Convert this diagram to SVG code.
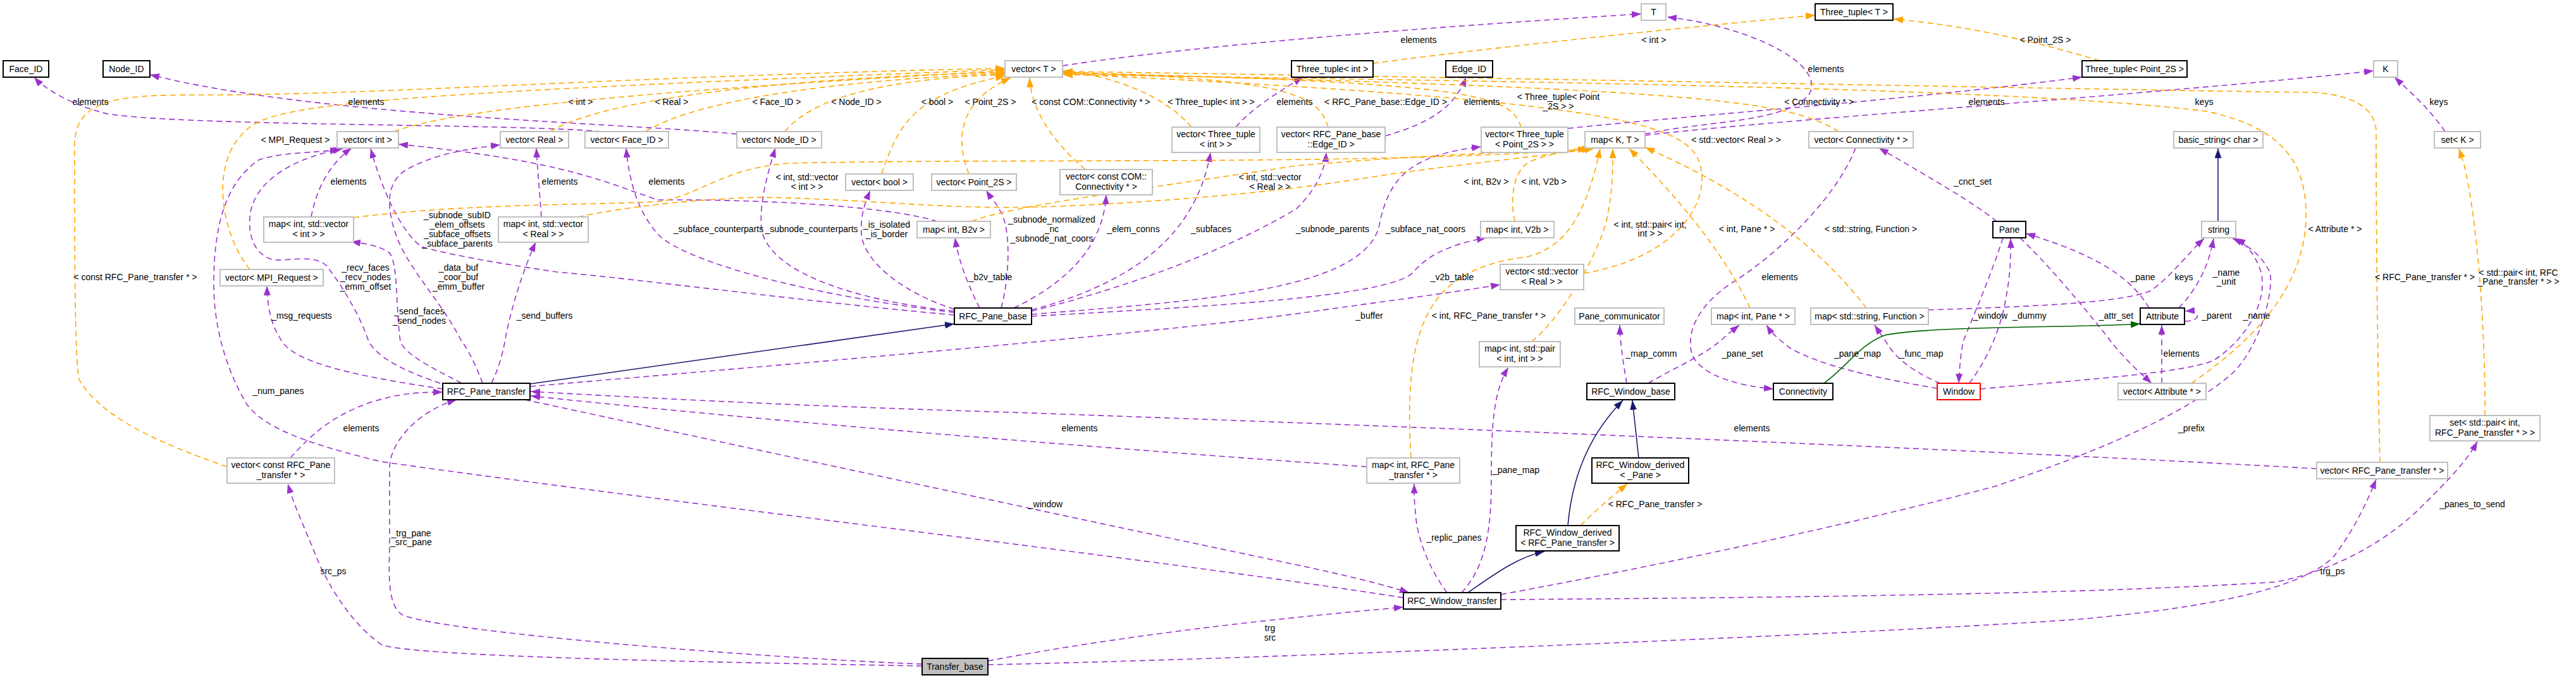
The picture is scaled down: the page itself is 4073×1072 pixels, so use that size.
<svg xmlns="http://www.w3.org/2000/svg" width="4073" height="1072" viewBox="0 0 4073 1072">
<style>
text{font-family:'Liberation Sans Narrow','Liberation Sans',Arial,sans-serif;font-size:14px;fill:#000;text-anchor:middle}
.n rect{fill:#fff;stroke:#bfbfbf;stroke-width:2}
.b rect{stroke:#000;stroke-width:2}
.r rect{stroke:#ff0000;stroke-width:2}
.f rect{fill:#bfbfbf;stroke:#000;stroke-width:2}
.u{fill:none;stroke:#9a32cd;stroke-width:1.6;stroke-dasharray:9,6;marker-end:url(#ap)}
.t{fill:none;stroke:#ffa500;stroke-width:1.6;stroke-dasharray:9,6;marker-end:url(#ao)}
.i{fill:none;stroke:#191970;stroke-width:1.6;marker-end:url(#an)}
.g{fill:none;stroke:#006400;stroke-width:1.6;marker-end:url(#ag)}
</style>
<defs>
<marker id="ap" markerUnits="userSpaceOnUse" markerWidth="15" markerHeight="11" refX="15" refY="5.5" orient="auto"><path d="M0,0L15,5.5L0,11z" fill="#9a32cd"/></marker>
<marker id="ao" markerUnits="userSpaceOnUse" markerWidth="15" markerHeight="11" refX="15" refY="5.5" orient="auto"><path d="M0,0L15,5.5L0,11z" fill="#ffa500"/></marker>
<marker id="an" markerUnits="userSpaceOnUse" markerWidth="15" markerHeight="11" refX="15" refY="5.5" orient="auto"><path d="M0,0L15,5.5L0,11z" fill="#191970"/></marker>
<marker id="ag" markerUnits="userSpaceOnUse" markerWidth="15" markerHeight="11" refX="15" refY="5.5" orient="auto"><path d="M0,0L15,5.5L0,11z" fill="#006400"/></marker>
</defs>
<rect width="4073" height="1072" fill="#fff"/>
<g id="connectors">
<path class="u" d="M1680,104 C1900,70 2300,40 2595,22"/>
<path class="u" d="M2601,212 C2700,190 2820,195 2860,150 C2890,100 2760,40 2636,27"/>
<path class="u" d="M2601,214 C2800,190 3400,150 3753,112"/>
<path class="u" d="M3866,208 C3840,170 3810,145 3786,122"/>
<path class="u" d="M951,208 C800,195 300,200 170,180 C110,165 70,140 54,122"/>
<path class="u" d="M1165,212 C1000,195 500,185 237,118"/>
<path class="u" d="M1954,201 C1980,170 2030,140 2060,122"/>
<path class="u" d="M2190,215 C2260,195 2300,170 2318,122"/>
<path class="u" d="M2479,203 C2700,180 3000,160 3292,122"/>
<path class="u" d="M492,343 C500,300 520,260 556,234"/>
<path class="u" d="M856,343 C853,300 850,270 848,234"/>
<path class="u" d="M1482,350 C1400,325 1200,315 1040,316 C960,290 900,255 630,228"/>
<path class="u" d="M1509,494 C1300,470 1100,420 1045,375 C1010,340 995,290 990,234"/>
<path class="u" d="M1509,492 C1350,475 1215,430 1204,362 C1200,320 1215,270 1226,234"/>
<path class="u" d="M1509,489 C1420,460 1365,410 1362,370 C1360,340 1368,320 1376,301"/>
<path class="u" d="M1549,487 C1530,450 1515,410 1510,376"/>
<path class="u" d="M1583,487 C1596,440 1598,370 1585,340 C1575,320 1565,310 1559,301"/>
<path class="u" d="M1603,487 C1700,440 1745,380 1749,308"/>
<path class="u" d="M1631,490 C1780,450 1890,380 1914,241"/>
<path class="u" d="M1631,492 C1800,450 1950,390 2050,330 C2080,300 2095,270 2097,241"/>
<path class="u" d="M1631,497 C1900,475 2150,460 2180,360 C2195,280 2230,245 2342,232"/>
<path class="u" d="M1631,500 C1900,485 2200,470 2235,430 C2260,400 2300,385 2350,376"/>
<path class="u" d="M1509,498 C1300,480 1000,440 880,430 C760,412 700,400 666,390 C640,370 610,320 586,235"/>
<path class="u" d="M838,611 C1200,580 1800,530 2050,496 C2200,475 2300,462 2372,450"/>
<path class="u" d="M696,606 C650,590 600,570 583,540 C570,500 540,450 516,420 C495,400 450,415 429,410 C400,400 393,370 395,344 C398,300 440,255 542,235"/>
<path class="u" d="M730,606 C680,580 640,560 633,540 C625,480 630,420 616,400 C600,388 575,385 555,382"/>
<path class="u" d="M763,606 C750,570 735,545 730,540 C700,480 650,430 629,379 C610,330 610,290 640,270 C680,245 740,235 791,229"/>
<path class="u" d="M777,606 C790,580 797,550 800,530 C810,480 830,420 847,383"/>
<path class="u" d="M700,615 C600,600 480,580 450,545 C430,520 423,490 422,452"/>
<path class="u" d="M2219,945 C1800,880 1100,800 603,730 C500,705 420,680 391,640 C360,590 338,520 338,450 C338,360 355,290 409,253 C440,242 480,242 537,237"/>
<path class="u" d="M459,724 C490,690 520,660 583,637 C630,622 660,620 700,620"/>
<path class="u" d="M1458,1050 C1200,1040 700,1000 636,972 C610,955 616,900 616,850 L616,740 C616,700 660,650 722,632"/>
<path class="u" d="M1458,1053 C1200,1048 650,1040 603,1019 C560,990 520,930 500,880 C480,830 465,800 455,765"/>
<path class="u" d="M1562,1045 C1800,1000 2050,975 2219,960"/>
<path class="u" d="M1562,1051 C2000,1042 3000,1000 3288,979 C3500,960 3640,930 3690,880 C3720,840 3740,800 3757,758"/>
<path class="u" d="M2373,948 C2800,945 3300,940 3600,920 C3700,900 3780,850 3830,800 C3870,760 3900,730 3917,698"/>
<path class="u" d="M3663,741 C3200,715 2400,680 1600,652 C1200,640 950,625 839,619"/>
<path class="u" d="M2161,738 C1900,720 1300,675 839,626"/>
<path class="u" d="M830,632 C1100,690 1700,820 2050,893 C2130,910 2190,925 2228,937"/>
<path class="u" d="M2288,937 C2260,900 2240,850 2238,810 C2236,790 2236,780 2236,765"/>
<path class="u" d="M2311,937 C2345,900 2358,850 2358,760 C2358,680 2360,620 2385,581"/>
<path class="u" d="M2373,940 C2700,880 3000,810 3154,769 C3300,720 3450,660 3530,590 C3580,540 3595,450 3589,431 C3580,410 3560,390 3530,377"/>
<path class="u" d="M2572,606 C2568,580 2562,550 2561,514"/>
<path class="u" d="M2606,606 C2650,580 2700,560 2730,530 L2750,514"/>
<path class="u" d="M2934,234 C2900,320 2800,410 2737,448 C2690,480 2665,520 2675,560 C2690,595 2750,610 2804,615"/>
<path class="u" d="M3063,614 C2980,600 2880,580 2830,550 C2810,535 2800,525 2793,514"/>
<path class="u" d="M3068,606 C3030,590 3000,570 2985,545 C2975,530 2968,520 2964,514"/>
<path class="u" d="M3157,350 C3120,320 3050,280 2971,234"/>
<path class="u" d="M3167,376 C3150,430 3120,500 3104,540 C3100,560 3098,585 3097,606"/>
<path class="u" d="M3114,606 C3140,570 3160,530 3170,480 C3178,440 3180,410 3179,377"/>
<path class="u" d="M3398,487 C3370,440 3320,405 3203,369"/>
<path class="u" d="M3194,376 C3240,420 3290,480 3330,530 C3360,570 3390,595 3402,606"/>
<path class="u" d="M3418,606 L3418,514"/>
<path class="u" d="M3445,487 C3470,460 3490,430 3500,377"/>
<path class="u" d="M3455,508 C3480,508 3482,490 3455,492"/>
<path class="u" d="M3131,615 C3300,600 3450,590 3500,570 C3560,530 3585,470 3575,430 C3565,400 3550,385 3535,377"/>
<path class="u" d="M3049,490 C3200,485 3350,480 3400,460 C3430,440 3460,400 3485,377"/>
<path class="t" d="M623,208 C700,180 900,150 1589,112"/>
<path class="t" d="M870,208 C950,160 1200,125 1589,114"/>
<path class="t" d="M1021,208 C1080,170 1250,130 1589,116"/>
<path class="t" d="M1241,208 C1280,160 1380,125 1589,118"/>
<path class="t" d="M1394,275 C1420,200 1440,150 1589,120"/>
<path class="t" d="M1532,275 C1510,220 1515,160 1598,123"/>
<path class="t" d="M1716,268 C1660,220 1630,170 1628,123"/>
<path class="t" d="M1884,201 C1840,150 1760,120 1681,112"/>
<path class="t" d="M2100,201 C2085,150 2040,125 1681,114"/>
<path class="t" d="M2405,201 C2390,150 2330,130 1681,115"/>
<path class="t" d="M2907,208 C2830,160 2700,140 1681,116"/>
<path class="t" d="M2504,432 C2640,410 2700,330 2690,270 C2680,200 2600,160 1681,117"/>
<path class="t" d="M395,426 C350,370 330,260 388,207 C430,165 560,150 1589,110"/>
<path class="t" d="M359,738 C250,700 160,660 125,600 C118,570 118,400 118,230 C118,150 200,150 335,150 C600,150 1000,120 1589,108"/>
<path class="t" d="M3465,606 C3560,540 3640,460 3646,350 C3650,250 3600,200 3489,176 C3200,140 2500,130 1681,118"/>
<path class="t" d="M3763,731 C3760,600 3757,400 3757,207 C3755,170 3720,150 3656,146 C3500,145 2500,125 1681,113"/>
<path class="t" d="M2171,100 C2400,70 2700,40 2870,24"/>
<path class="t" d="M3320,96 C3200,60 3100,40 2994,30"/>
<path class="t" d="M559,344 C750,320 950,325 1050,318 C1120,300 1150,265 1250,258 C1600,250 2200,262 2516,235"/>
<path class="t" d="M914,343 C1000,325 1100,315 1201,312 C1400,315 1500,335 1700,325 C1900,315 2050,300 2200,275 C2350,255 2450,245 2520,235"/>
<path class="t" d="M1536,350 C1600,325 1800,300 2050,262 C2250,245 2400,240 2516,235"/>
<path class="t" d="M2395,350 C2388,320 2390,270 2420,255 C2450,243 2480,238 2510,235"/>
<path class="t" d="M2422,540 C2460,510 2520,420 2540,350 C2550,300 2550,270 2550,235"/>
<path class="t" d="M2231,724 C2228,680 2225,600 2241,540 C2260,470 2300,420 2415,406 C2480,390 2510,330 2530,235"/>
<path class="t" d="M2767,487 C2740,430 2690,350 2576,235"/>
<path class="t" d="M2951,487 C2900,420 2800,320 2601,233"/>
<path class="t" d="M3929,657 C3930,550 3920,360 3896,260 L3888,235"/>
<path class="t" d="M2499,831 C2530,800 2555,780 2573,765"/>
<path class="i" d="M838,607 L1509,512"/>
<path class="i" d="M3507,350 L3507,235"/>
<path class="i" d="M2321,937 C2360,910 2400,880 2442,872"/>
<path class="i" d="M2479,831 C2485,760 2510,690 2566,633"/>
<path class="i" d="M2591,724 L2581,633"/>
<path class="g" d="M2884,606 C2920,580 2940,545 2980,530 C3050,515 3300,518 3384,512"/>
</g>
<g id="edge-labels">
<text x="2243" y="68">elements</text>
<text x="2887" y="114">elements</text>
<text x="3485" y="166">keys</text>
<text x="3856" y="166">keys</text>
<text x="143" y="166">elements</text>
<text x="579" y="166">elements</text>
<text x="2047" y="166">elements</text>
<text x="2343" y="166">elements</text>
<text x="3141" y="166">elements</text>
<text x="551" y="292">elements</text>
<text x="885" y="292">elements</text>
<text x="1054" y="292">elements</text>
<text x="1136" y="367">_subface_counterparts</text>
<text x="1283" y="367">_subnode_counterparts</text>
<text x="1402" y="360">_is_isolated<tspan x="1402" dy="15">_is_border</tspan></text>
<text x="1566" y="443">_b2v_table</text>
<text x="1663" y="352">_subnode_normalized<tspan x="1663" dy="15">_nc</tspan><tspan x="1663" dy="15">_subnode_nat_coors</tspan></text>
<text x="1792" y="367">_elem_conns</text>
<text x="1915" y="367">_subfaces</text>
<text x="2107" y="367">_subnode_parents</text>
<text x="2254" y="367">_subface_nat_coors</text>
<text x="2296" y="443">_v2b_table</text>
<text x="2165" y="504">_buffer</text>
<text x="723" y="345">_subnode_subID<tspan x="723" dy="15">_elem_offsets</tspan><tspan x="723" dy="15">_subface_offsets</tspan><tspan x="723" dy="15">_subface_parents</tspan></text>
<text x="578" y="428">_recv_faces<tspan x="578" dy="15">_recv_nodes</tspan><tspan x="578" dy="15">_emm_offset</tspan></text>
<text x="725" y="428">_data_buf<tspan x="725" dy="15">_coor_buf</tspan><tspan x="725" dy="15">_emm_buffer</tspan></text>
<text x="663" y="497">_send_faces<tspan x="663" dy="15">_send_nodes</tspan></text>
<text x="861" y="504">_send_buffers</text>
<text x="477" y="504">_msg_requests</text>
<text x="440" y="623">_num_panes</text>
<text x="571" y="682">elements</text>
<text x="650" y="848">_trg_pane<tspan x="650" dy="14">_src_pane</tspan></text>
<text x="527" y="908">src_ps</text>
<text x="2008" y="998">trg<tspan x="2008" dy="15">src</tspan></text>
<text x="3688" y="908">trg_ps</text>
<text x="3909" y="802">_panes_to_send</text>
<text x="2770" y="682">elements</text>
<text x="1707" y="682">elements</text>
<text x="1653" y="802">_window</text>
<text x="2299" y="855">_replic_panes</text>
<text x="2397" y="748">_pane_map</text>
<text x="3465" y="682">_prefix</text>
<text x="2611" y="564">_map_comm</text>
<text x="2755" y="564">_pane_set</text>
<text x="2814" y="443">elements</text>
<text x="2937" y="564">_pane_map</text>
<text x="3038" y="564">_func_map</text>
<text x="3119" y="292">_cnct_set</text>
<text x="3147" y="504">_window</text>
<text x="3209" y="504">_dummy</text>
<text x="3388" y="443">_pane</text>
<text x="3346" y="504">_attr_set</text>
<text x="3449" y="564">elements</text>
<text x="3520" y="436">_name<tspan x="3520" dy="14">_unit</tspan></text>
<text x="3505" y="504">_parent</text>
<text x="3568" y="504">_name</text>
<text x="3453" y="443">keys</text>
<text x="918" y="166">&lt; int &gt;</text>
<text x="1062" y="166">&lt; Real &gt;</text>
<text x="1228" y="166">&lt; Face_ID &gt;</text>
<text x="1354" y="166">&lt; Node_ID &gt;</text>
<text x="1482" y="166">&lt; bool &gt;</text>
<text x="1566" y="166">&lt; Point_2S &gt;</text>
<text x="1725" y="166">&lt; const COM::Connectivity * &gt;</text>
<text x="1915" y="166">&lt; Three_tuple&lt; int &gt; &gt;</text>
<text x="2191" y="166">&lt; RFC_Pane_base::Edge_ID &gt;</text>
<text x="2464" y="158">&lt; Three_tuple&lt; Point<tspan x="2464" dy="15">_2S &gt; &gt;</tspan></text>
<text x="2876" y="166">&lt; Connectivity * &gt;</text>
<text x="2745" y="226">&lt; std::vector&lt; Real &gt; &gt;</text>
<text x="467" y="226">&lt; MPI_Request &gt;</text>
<text x="214" y="443">&lt; const RFC_Pane_transfer * &gt;</text>
<text x="3692" y="367">&lt; Attribute * &gt;</text>
<text x="3834" y="443">&lt; RFC_Pane_transfer * &gt;</text>
<text x="2615" y="68">&lt; int &gt;</text>
<text x="3234" y="68">&lt; Point_2S &gt;</text>
<text x="1276" y="285">&lt; int, std::vector<tspan x="1276" dy="15">&lt; int &gt; &gt;</tspan></text>
<text x="2008" y="285">&lt; int, std::vector<tspan x="2008" dy="15">&lt; Real &gt; &gt;</tspan></text>
<text x="2350" y="292">&lt; int, B2v &gt;</text>
<text x="2441" y="292">&lt; int, V2b &gt;</text>
<text x="2609" y="360">&lt; int, std::pair&lt; int,<tspan x="2609" dy="14">int &gt; &gt;</tspan></text>
<text x="2762" y="367">&lt; int, Pane * &gt;</text>
<text x="2958" y="367">&lt; std::string, Function &gt;</text>
<text x="2354" y="504">&lt; int, RFC_Pane_transfer * &gt;</text>
<text x="3982" y="436">&lt; std::pair&lt; int, RFC<tspan x="3982" dy="14">_Pane_transfer * &gt; &gt;</tspan></text>
<text x="2617" y="802">&lt; RFC_Pane_transfer &gt;</text>
</g>
<g id="Face_ID" class="n b"><rect x="5" y="96" width="72" height="26"/><text x="41" y="114">Face_ID</text></g>
<g id="Node_ID" class="n b"><rect x="163" y="96" width="74" height="26"/><text x="200" y="114">Node_ID</text></g>
<g id="vector_T" class="n"><rect x="1589" y="96" width="91" height="26"/><text x="1634.5" y="114">vector&lt; T &gt;</text></g>
<g id="T" class="n"><rect x="2595" y="6" width="39" height="26"/><text x="2614.5" y="24">T</text></g>
<g id="Three_tuple_T" class="n b"><rect x="2870" y="6" width="123" height="26"/><text x="2931.5" y="24">Three_tuple&lt; T &gt;</text></g>
<g id="Three_tuple_int" class="n b"><rect x="2042" y="96" width="129" height="26"/><text x="2106.5" y="114">Three_tuple&lt; int &gt;</text></g>
<g id="Edge_ID" class="n b"><rect x="2286" y="96" width="74" height="26"/><text x="2323" y="114">Edge_ID</text></g>
<g id="Three_tuple_Point_2S" class="n b"><rect x="3292" y="96" width="166" height="26"/><text x="3375" y="114">Three_tuple&lt; Point_2S &gt;</text></g>
<g id="K" class="n"><rect x="3753" y="96" width="38" height="26"/><text x="3772" y="114">K</text></g>
<g id="vector_int" class="n"><rect x="533" y="208" width="97" height="26"/><text x="581.5" y="226">vector&lt; int &gt;</text></g>
<g id="vector_Real" class="n"><rect x="791" y="208" width="108" height="26"/><text x="845" y="226">vector&lt; Real &gt;</text></g>
<g id="vector_Face_ID" class="n"><rect x="925" y="208" width="132" height="26"/><text x="991" y="226">vector&lt; Face_ID &gt;</text></g>
<g id="vector_Node_ID" class="n"><rect x="1165" y="208" width="134" height="26"/><text x="1232" y="226">vector&lt; Node_ID &gt;</text></g>
<g id="vector_Three_tuple_int" class="n"><rect x="1853" y="201" width="139" height="40"/><text x="1922.5" y="217">vector&lt; Three_tuple<tspan x="1922.5" dy="16">&lt; int &gt; &gt;</tspan></text></g>
<g id="vector_Edge_ID" class="n"><rect x="2019" y="201" width="171" height="40"/><text x="2104.5" y="217">vector&lt; RFC_Pane_base<tspan x="2104.5" dy="16">::Edge_ID &gt;</tspan></text></g>
<g id="vector_Three_tuple_Point_2S" class="n"><rect x="2342" y="201" width="137" height="40"/><text x="2410.5" y="217">vector&lt; Three_tuple<tspan x="2410.5" dy="16">&lt; Point_2S &gt; &gt;</tspan></text></g>
<g id="map_K_T" class="n"><rect x="2506" y="208" width="95" height="26"/><text x="2553.5" y="226">map&lt; K, T &gt;</text></g>
<g id="vector_Connectivity" class="n"><rect x="2860" y="208" width="165" height="26"/><text x="2942.5" y="226">vector&lt; Connectivity * &gt;</text></g>
<g id="basic_string_char" class="n"><rect x="3437" y="208" width="141" height="26"/><text x="3507.5" y="226">basic_string&lt; char &gt;</text></g>
<g id="set_K" class="n"><rect x="3849" y="208" width="73" height="26"/><text x="3885.5" y="226">set&lt; K &gt;</text></g>
<g id="vector_bool" class="n"><rect x="1337" y="275" width="107" height="26"/><text x="1390.5" y="293">vector&lt; bool &gt;</text></g>
<g id="vector_Point_2S" class="n"><rect x="1473" y="275" width="134" height="26"/><text x="1540" y="293">vector&lt; Point_2S &gt;</text></g>
<g id="vector_COM_Connectivity" class="n"><rect x="1676" y="268" width="146" height="40"/><text x="1749" y="284">vector&lt; const COM::<tspan x="1749" dy="16">Connectivity * &gt;</tspan></text></g>
<g id="map_int_vector_int" class="n"><rect x="417" y="343" width="142" height="40"/><text x="488" y="359">map&lt; int, std::vector<tspan x="488" dy="16">&lt; int &gt; &gt;</tspan></text></g>
<g id="map_int_vector_Real" class="n"><rect x="788" y="343" width="142" height="40"/><text x="859" y="359">map&lt; int, std::vector<tspan x="859" dy="16">&lt; Real &gt; &gt;</tspan></text></g>
<g id="map_int_B2v" class="n"><rect x="1450" y="350" width="116" height="26"/><text x="1508" y="368">map&lt; int, B2v &gt;</text></g>
<g id="map_int_V2b" class="n"><rect x="2341" y="350" width="116" height="26"/><text x="2399" y="368">map&lt; int, V2b &gt;</text></g>
<g id="Pane" class="n b"><rect x="3151" y="350" width="52" height="26"/><text x="3177" y="368">Pane</text></g>
<g id="string" class="n"><rect x="3481" y="350" width="54" height="26"/><text x="3508" y="368">string</text></g>
<g id="vector_MPI_Request" class="n"><rect x="348" y="426" width="163" height="26"/><text x="429.5" y="444">vector&lt; MPI_Request &gt;</text></g>
<g id="vector_std_vector_Real" class="n"><rect x="2372" y="418" width="132" height="40"/><text x="2438" y="434">vector&lt; std::vector<tspan x="2438" dy="16">&lt; Real &gt; &gt;</tspan></text></g>
<g id="RFC_Pane_base" class="n b"><rect x="1509" y="487" width="122" height="26"/><text x="1570" y="505">RFC_Pane_base</text></g>
<g id="Pane_communicator" class="n"><rect x="2490" y="487" width="141" height="26"/><text x="2560.5" y="505">Pane_communicator</text></g>
<g id="map_int_Pane" class="n"><rect x="2706" y="487" width="132" height="26"/><text x="2772" y="505">map&lt; int, Pane * &gt;</text></g>
<g id="map_string_Function" class="n"><rect x="2863" y="487" width="186" height="26"/><text x="2956" y="505">map&lt; std::string, Function &gt;</text></g>
<g id="Attribute" class="n b"><rect x="3384" y="487" width="70" height="26"/><text x="3419" y="505">Attribute</text></g>
<g id="map_int_pair" class="n"><rect x="2339" y="540" width="128" height="40"/><text x="2403" y="556">map&lt; int, std::pair<tspan x="2403" dy="16">&lt; int, int &gt; &gt;</tspan></text></g>
<g id="RFC_Pane_transfer" class="n b"><rect x="700" y="606" width="138" height="26"/><text x="769" y="624">RFC_Pane_transfer</text></g>
<g id="RFC_Window_base" class="n b"><rect x="2509" y="606" width="139" height="26"/><text x="2578.5" y="624">RFC_Window_base</text></g>
<g id="Connectivity" class="n b"><rect x="2804" y="606" width="94" height="26"/><text x="2851" y="624">Connectivity</text></g>
<g id="Window" class="n r"><rect x="3063" y="606" width="68" height="26"/><text x="3097" y="624">Window</text></g>
<g id="vector_Attribute" class="n"><rect x="3349" y="606" width="139" height="26"/><text x="3418.5" y="624">vector&lt; Attribute * &gt;</text></g>
<g id="set_pair" class="n"><rect x="3842" y="657" width="174" height="40"/><text x="3929" y="673">set&lt; std::pair&lt; int,<tspan x="3929" dy="16">RFC_Pane_transfer * &gt; &gt;</tspan></text></g>
<g id="vector_const_RFC_Pane_transfer" class="n"><rect x="359" y="724" width="170" height="40"/><text x="444" y="740">vector&lt; const RFC_Pane<tspan x="444" dy="16">_transfer * &gt;</tspan></text></g>
<g id="map_int_RFC_Pane_transfer" class="n"><rect x="2161" y="724" width="147" height="40"/><text x="2234.5" y="740">map&lt; int, RFC_Pane<tspan x="2234.5" dy="16">_transfer * &gt;</tspan></text></g>
<g id="RFC_Window_derived_Pane" class="n b"><rect x="2517" y="724" width="153" height="40"/><text x="2593.5" y="740">RFC_Window_derived<tspan x="2593.5" dy="16">&lt; _Pane &gt;</tspan></text></g>
<g id="vector_RFC_Pane_transfer" class="n"><rect x="3663" y="731" width="207" height="26"/><text x="3766.5" y="749">vector&lt; RFC_Pane_transfer * &gt;</text></g>
<g id="RFC_Window_derived_RFC_Pane_transfer" class="n b"><rect x="2397" y="831" width="163" height="40"/><text x="2478.5" y="847">RFC_Window_derived<tspan x="2478.5" dy="16">&lt; RFC_Pane_transfer &gt;</tspan></text></g>
<g id="RFC_Window_transfer" class="n b"><rect x="2219" y="937" width="154" height="26"/><text x="2296" y="955">RFC_Window_transfer</text></g>
<g id="Transfer_base" class="n f"><rect x="1458" y="1041" width="104" height="26"/><text x="1510" y="1059">Transfer_base</text></g>
</svg>
